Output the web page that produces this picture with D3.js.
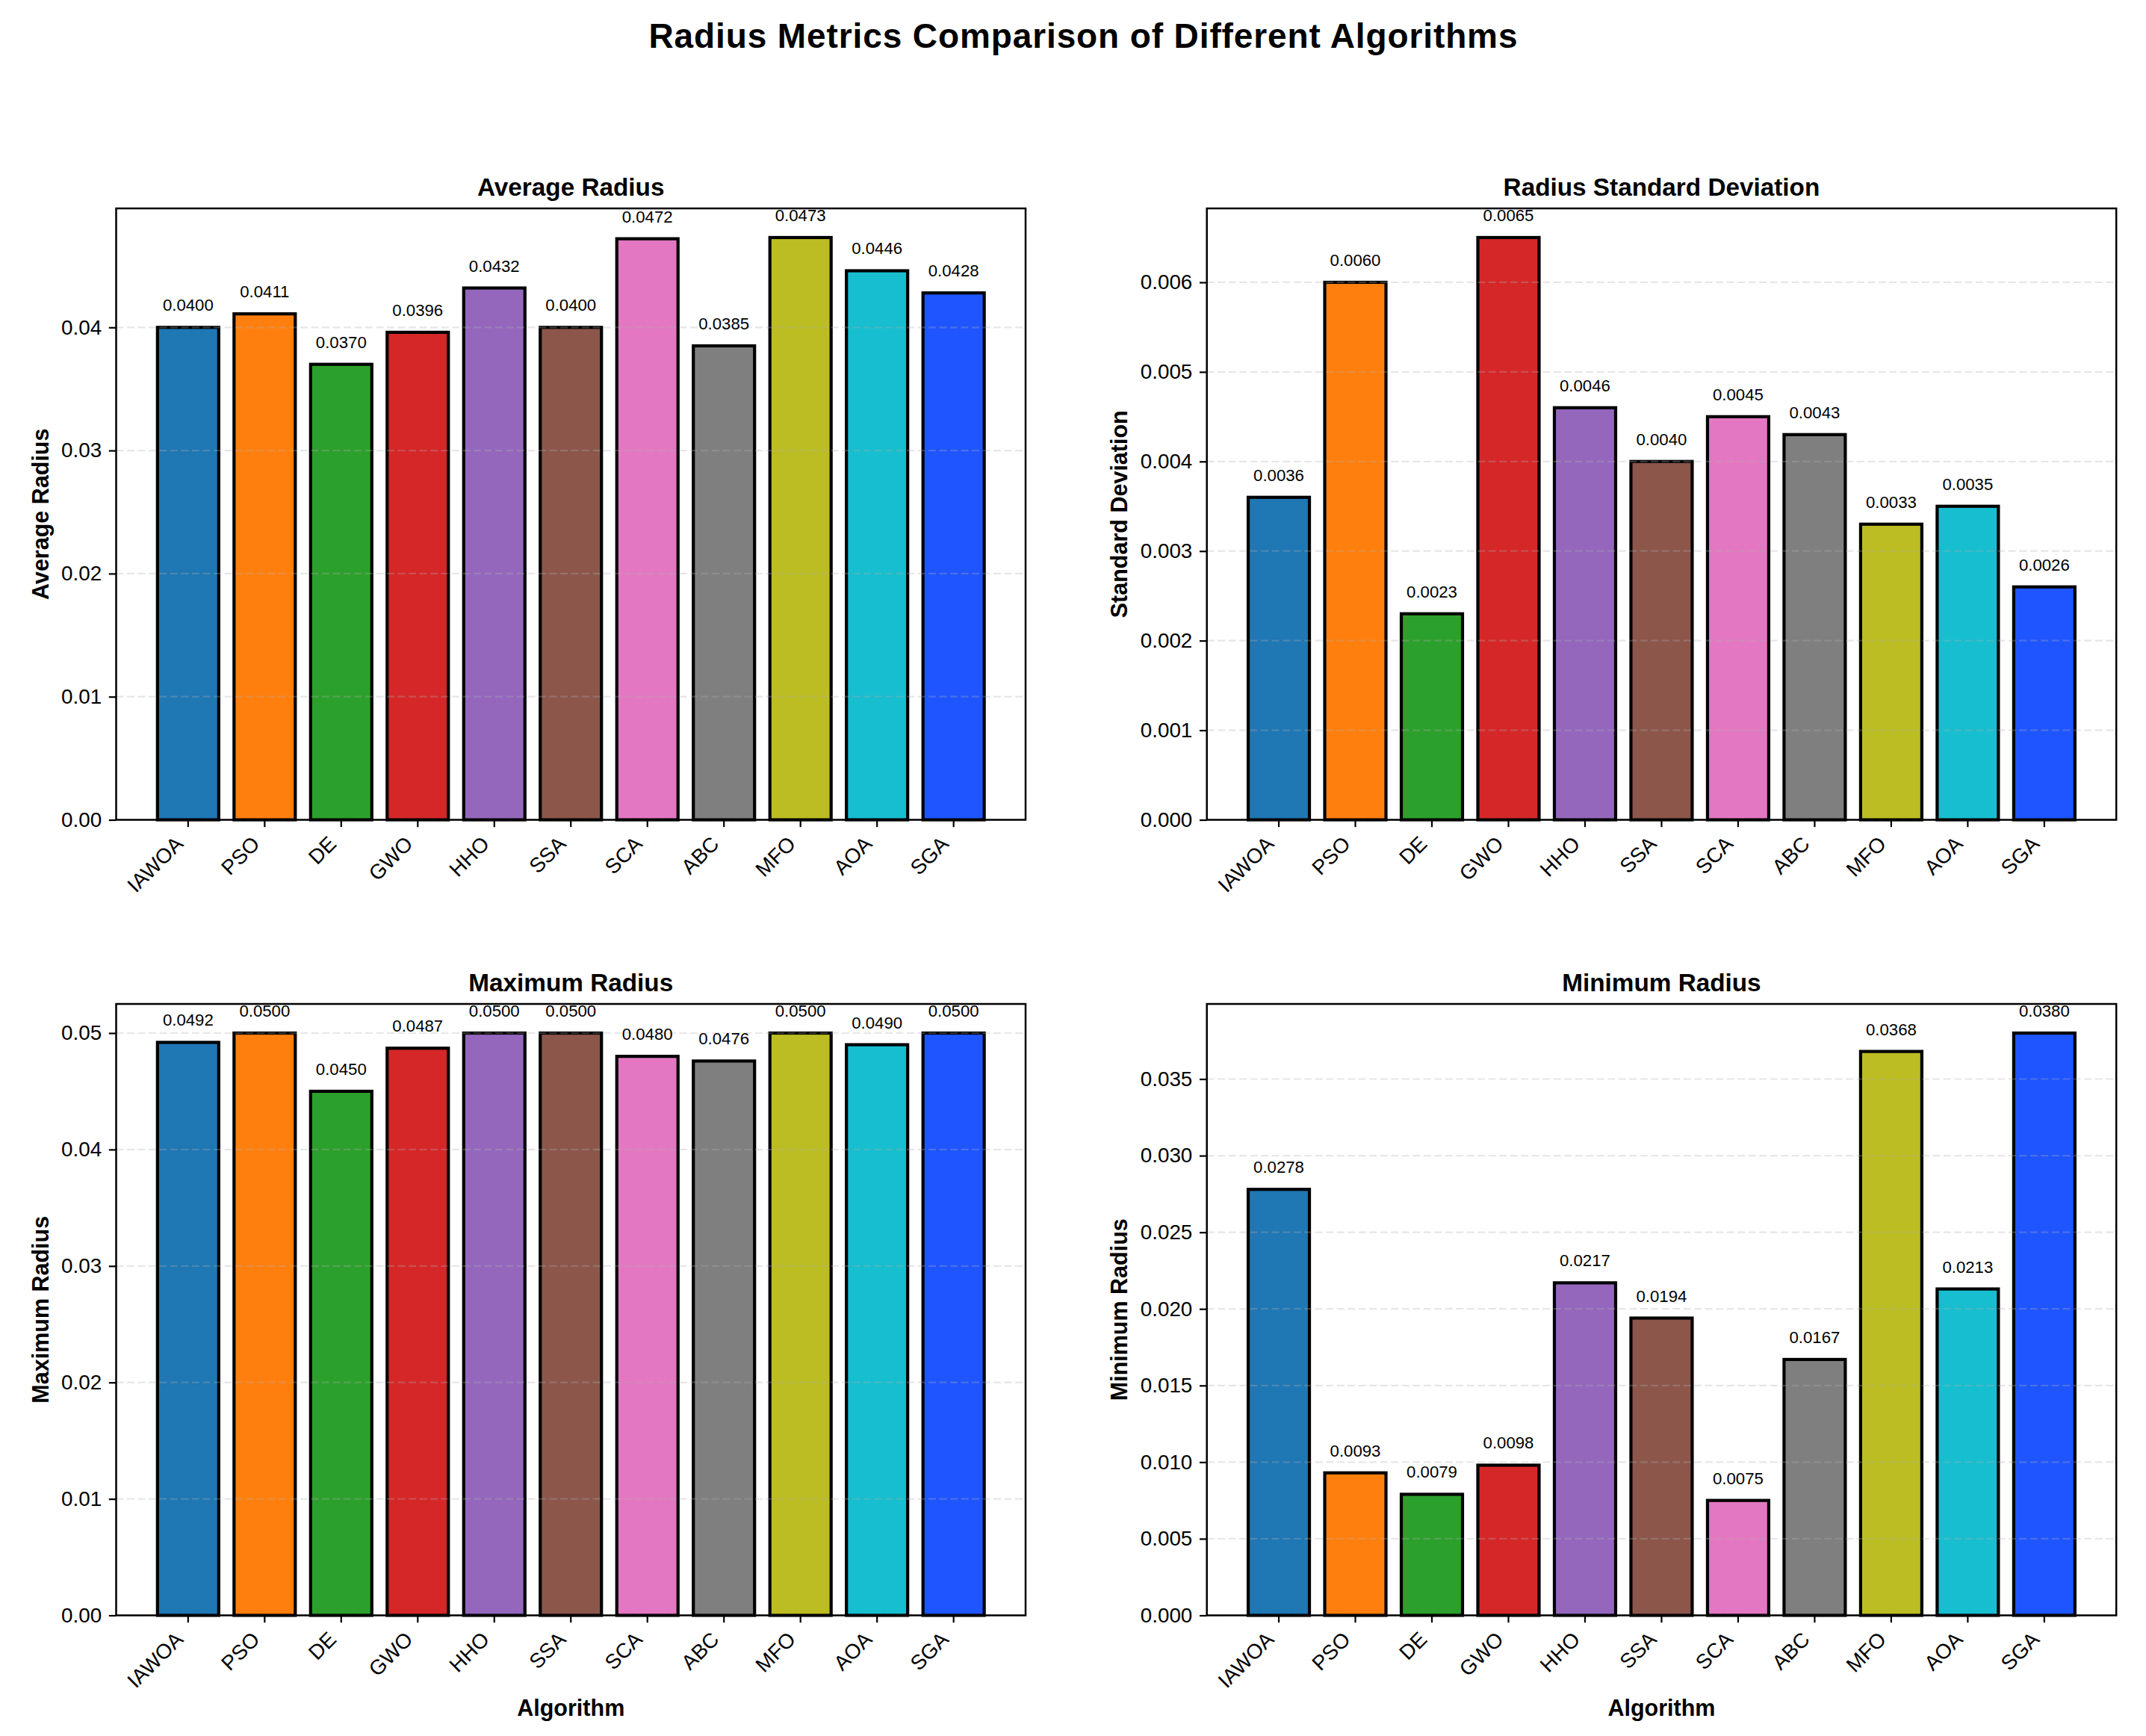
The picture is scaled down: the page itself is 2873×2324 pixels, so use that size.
<!DOCTYPE html>
<html>
<head>
<meta charset="utf-8">
<script src="https://cdn.jsdelivr.net/npm/d3@7"></script>
<style>
  body { margin: 0; background: #fff; }
  svg { display: block; font-family: "Liberation Sans", Arial, sans-serif; }
</style>
</head>
<body>
<svg width="2873" height="2324"></svg>
<script>
// data
var algorithms = ["IAWOA", "PSO", "DE", "GWO", "HHO", "SSA", "SCA", "ABC", "MFO", "AOA", "SGA"];
var colors = ["#1f77b4", "#ff7f0e", "#2ca02c", "#d62728", "#9467bd", "#8c564b",
  "#e377c2", "#7f7f7f", "#bcbd22", "#17becf", "#1f55ff"];

var avgRadius = [0.0400, 0.0411, 0.0370, 0.0396, 0.0432, 0.0400, 0.0472, 0.0385, 0.0473, 0.0446, 0.0428];
var stdRadius = [0.0036, 0.0060, 0.0023, 0.0065, 0.0046, 0.0040, 0.0045, 0.0043, 0.0033, 0.0035, 0.0026];
var maxRadius = [0.0492, 0.0500, 0.0450, 0.0487, 0.0500, 0.0500, 0.0480, 0.0476, 0.0500, 0.0490, 0.0500];
var minRadius = [0.0278, 0.0093, 0.0079, 0.0098, 0.0217, 0.0194, 0.0075, 0.0167, 0.0368, 0.0213, 0.0380];

var avgTicks = [0, 0.01, 0.02, 0.03, 0.04];
var stdTicks = [0, 0.001, 0.002, 0.003, 0.004, 0.005, 0.006];
var maxTicks = [0, 0.01, 0.02, 0.03, 0.04, 0.05];
var minTicks = [0, 0.005, 0.01, 0.015, 0.02, 0.025, 0.03, 0.035];

var panels = [
  { title: "Average Radius", ylabel: "Average Radius", values: avgRadius, ticks: avgTicks, fmt: ".2f", left: 155.5, top: 279, xlabel: null },
  { title: "Radius Standard Deviation", ylabel: "Standard Deviation", values: stdRadius, ticks: stdTicks, fmt: ".3f", left: 1615.7, top: 279, xlabel: null },
  { title: "Maximum Radius", ylabel: "Maximum Radius", values: maxRadius, ticks: maxTicks, fmt: ".2f", left: 155.5, top: 1344, xlabel: "Algorithm" },
  { title: "Minimum Radius", ylabel: "Minimum Radius", values: minRadius, ticks: minTicks, fmt: ".3f", left: 1615.7, top: 1344, xlabel: "Algorithm" }
];

var width = 1217.5, height = 818.5;
var svg = d3.select("svg");

svg.append("rect").attr("width", 2873).attr("height", 2324).attr("fill", "#fff");

svg.append("text")
  .attr("x", 1450).attr("y", 64)
  .attr("text-anchor", "middle")
  .attr("font-size", "46px").attr("font-weight", "bold")
  .attr("textLength", 1163).attr("lengthAdjust", "spacing")
  .text("Radius Metrics Comparison of Different Algorithms");

panels.forEach(drawPanel);

function drawPanel(p) {
  var g = svg.append("g").attr("transform", "translate(" + p.left + "," + p.top + ")");

  var x = d3.scaleBand().domain(algorithms).range([0, width])
    .paddingInner(0.2).paddingOuter(0.54);
  var y = d3.scaleLinear().domain([0, d3.max(p.values) * 1.05]).range([height, 0]);

  var rows = algorithms.map(function (a, i) { return { name: a, value: p.values[i], color: colors[i] }; });

  // bars
  g.selectAll(".bar")
    .data(rows)
    .enter()
    .append("rect")
    .attr("x", function (d) { return x(d.name); })
    .attr("y", function (d) { return y(d.value); })
    .attr("width", x.bandwidth())
    .attr("height", function (d) { return height - y(d.value); })
    .attr("fill", function (d) { return d.color; })
    .attr("stroke", "#000")
    .attr("stroke-width", 4.2);

  // grid (drawn over the bars, like matplotlib)
  g.selectAll(".grid")
    .data(p.ticks)
    .enter()
    .append("line")
    .attr("x1", 0).attr("x2", width)
    .attr("y1", function (d) { return y(d); })
    .attr("y2", function (d) { return y(d); })
    .attr("stroke", "#b0b0b0")
    .attr("stroke-opacity", 0.3)
    .attr("stroke-width", 2.2)
    .attr("stroke-dasharray", "10,4.5");

  // value labels
  g.selectAll(".val")
    .data(rows)
    .enter()
    .append("text")
    .attr("x", function (d) { return x(d.name) + x.bandwidth() / 2; })
    .attr("y", function (d) { return y(d.value) - 22; })
    .attr("text-anchor", "middle")
    .attr("font-size", "22.2px")
    .text(function (d) { return d.value.toFixed(4); });

  // y axis
  var yAxis = g.append("g")
    .call(d3.axisLeft(y).tickValues(p.ticks).tickFormat(d3.format(p.fmt))
      .tickSize(9.7).tickPadding(9.7));
  yAxis.select(".domain").remove();
  yAxis.selectAll(".tick line").attr("stroke", "#000").attr("stroke-width", 2.2);
  yAxis.selectAll(".tick text")
    .attr("font-size", "27.8px")
    .attr("font-family", "Liberation Sans, Arial, sans-serif")
    .attr("fill", "#000");

  var maxW = 0;
  yAxis.selectAll(".tick text").each(function () {
    maxW = Math.max(maxW, this.getComputedTextLength());
  });

  // x axis
  var xAxis = g.append("g")
    .attr("transform", "translate(0," + height + ")")
    .call(d3.axisBottom(x).tickSize(9.7).tickPadding(9.7));
  xAxis.select(".domain").remove();
  xAxis.selectAll(".tick line").attr("stroke", "#000").attr("stroke-width", 2.2);
  xAxis.selectAll(".tick text")
    .attr("font-size", "27.8px")
    .attr("font-family", "Liberation Sans, Arial, sans-serif")
    .attr("fill", "#000")
    .attr("text-anchor", "end")
    .attr("x", -5).attr("y", 34).attr("dy", 0)
    .attr("transform", "rotate(-45,-5,34)");

  // frame
  g.append("rect")
    .attr("width", width).attr("height", height)
    .attr("fill", "none").attr("stroke", "#000").attr("stroke-width", 2.5);

  // title
  g.append("text")
    .attr("x", width / 2).attr("y", -16.7)
    .attr("text-anchor", "middle")
    .attr("font-size", "33.3px").attr("font-weight", "bold")
    .text(p.title);

  // y label
  var lx = -(9.7 + 9.7 + maxW + 11 + 6.4);
  g.append("text")
    .attr("transform", "translate(" + lx + "," + (height / 2) + ") rotate(-90)")
    .attr("text-anchor", "middle")
    .attr("font-size", "30.5px").attr("font-weight", "bold")
    .text(p.ylabel);

  if (p.xlabel) {
    g.append("text")
      .attr("x", width / 2).attr("y", height + 134)
      .attr("text-anchor", "middle")
      .attr("font-size", "30.5px").attr("font-weight", "bold")
      .text(p.xlabel);
  }
}
</script>
</body>
</html>
